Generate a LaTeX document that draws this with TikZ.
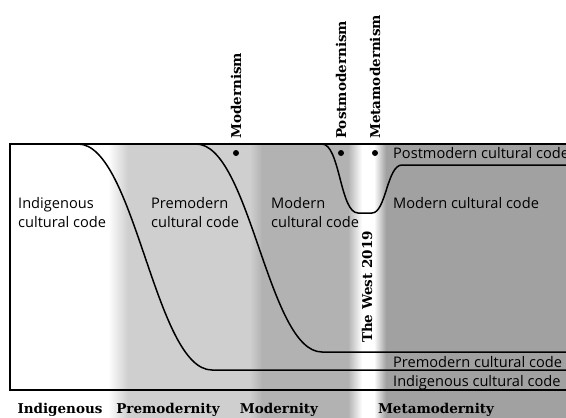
\documentclass[tikz,border=0pt]{standalone}
\usepackage{fontspec}
\setmainfont{Open Sans}
\newfontfamily\slabfont{DejaVu Serif}
\usetikzlibrary{positioning}
\definecolor{premod}{gray}{0.81}
\definecolor{modgray}{gray}{0.70}
\definecolor{metagray}{gray}{0.63}

\begin{document}
\begin{tikzpicture}[x=1pt,y=-1pt,
    code/.style={font=\fontsize{14.6}{19}\selectfont,align=left,inner sep=0pt},
    era/.style={font=\slabfont\bfseries\fontsize{13.5}{15}\selectfont,inner sep=0pt},
    ism/.style={era,rotate=90,anchor=west},
    cline/.style={line width=1.5pt}]
        \useasboundingbox (0,0) rectangle (566,418);
        % fondo por epocas
        \fill[premod] (128,144) rectangle (250,418);
        \fill[modgray] (262,144) rectangle (348,418);
        \fill[metagray] (386,144) rectangle (566,418);
        \shade[left color=white,right color=premod] (108,144) rectangle (128,418);
        \shade[left color=premod,right color=modgray] (250,144) rectangle (262,418);
        \shade[left color=modgray,right color=white] (348,144) rectangle (362,418);
        \shade[left color=white,right color=metagray] (374,144) rectangle (386,418);
        % marco
        \draw[cline] (566,144) -- (10,144) -- (10,390) -- (566,390);
        % codigos culturales
        \draw[cline] (78,144) .. controls (135,144) and (155,370) .. (212,370) -- (566,370);
        \draw[cline] (196,144) .. controls (250,144) and (268,352) .. (322,352) -- (566,352);
        \draw[cline] (322,144) .. controls (340,144) and (340,213) .. (358,213) -- (372,213)
          .. controls (386,213) and (387,165) .. (402,165) -- (566,165);
        \node[code,anchor=west] (indig) at (18,213) {Indigenous\\cultural code};
        \node[code,anchor=west] (premod) at (151,213) {Premodern\\cultural code};
        \node[code,anchor=west] (modern) at (271,213) {Modern\\cultural code};
        \node[code,anchor=base west] (postcode) at (393,158) {Postmodern cultural code};
        \node[code,anchor=base west] (modcode) at (393,208) {Modern cultural code};
        \node[code,anchor=base west] (precode) at (393,367) {Premodern cultural code};
        \node[code,anchor=base west] (indcode) at (393,386) {Indigenous cultural code};
        % movimientos
        \foreach \x/\name/\txt in {236/modism/Modernism, 341/postism/Postmodernism, 375/metaism/Metamodernism} {
          \fill (\x,153) circle (3);
          \node[ism] (\name) at (\x,139) {\txt};
        }
        \node[era,rotate=90] (west) at (367,287) {The West 2019};
        % epocas
        \foreach \x/\name/\txt in {60/indera/Indigenous, 168/preera/Premodernity, 279/modera/Modernity, 436/metaera/Metamodernity}
          \node[era,anchor=base] (\name) at (\x,413) {\txt};
      \end{tikzpicture}
\end{document}
